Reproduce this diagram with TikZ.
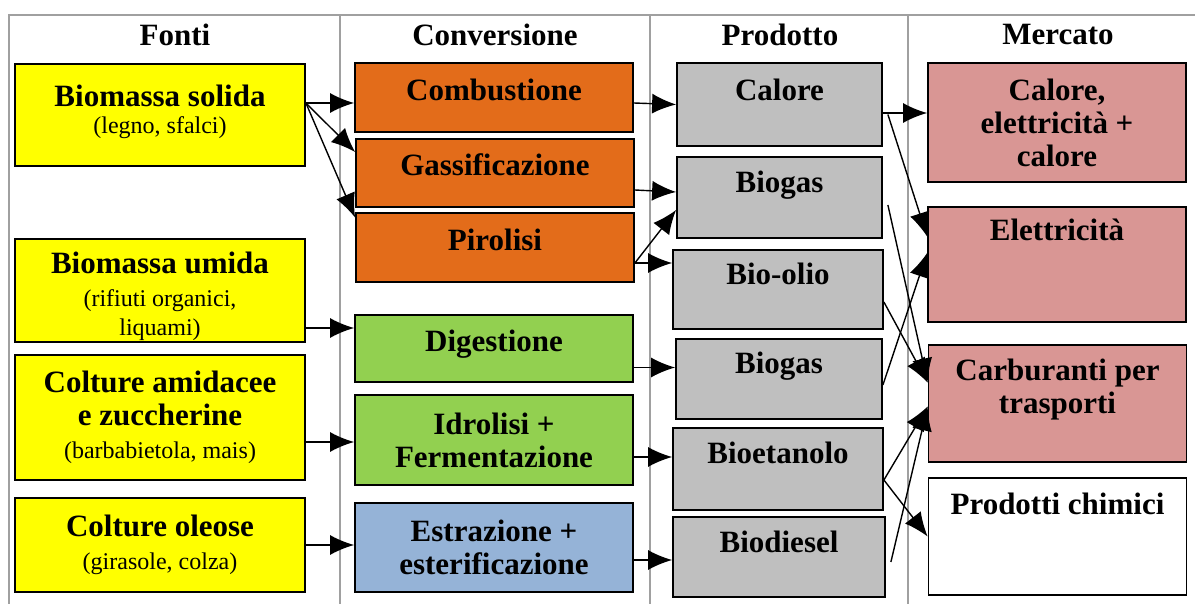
\documentclass[tikz,border=0pt]{standalone}
\usepackage{fontspec}
\setmainfont{Liberation Serif}
\usetikzlibrary{arrows.meta,calc,positioning}
\definecolor{fonteGiallo}{RGB}{255,255,0}
\definecolor{convArancio}{RGB}{227,108,26}
\definecolor{convVerde}{RGB}{146,208,80}
\definecolor{convBlu}{RGB}{149,179,215}
\definecolor{prodGrigio}{RGB}{191,191,191}
\definecolor{mercRosa}{RGB}{217,150,148}
\definecolor{colLinea}{RGB}{160,160,160}
\newcommand{\sottotesto}[1]{{\normalfont\fontsize{12}{14}\selectfont #1}}

\begin{document}
\begin{tikzpicture}[x=0.5pt, y=-0.5pt,
    boxStyle/.style={rectangle, draw=black, line width=0.9pt, align=center, inner sep=2pt, font=\bfseries\fontsize{15.5}{16.5}\selectfont},
    fonteStyle/.style={boxStyle, fill=fonteGiallo, minimum width=145pt},
    convStyle/.style={boxStyle, minimum width=139pt},
    rigaStyle/.style={text height=10pt, text depth=7pt},
    prodStyle/.style={boxStyle, fill=prodGrigio, text height=10pt, text depth=15pt},
    mercStyle/.style={boxStyle, minimum width=129pt},
    headStyle/.style={font=\bfseries\fontsize{15.5}{16.5}\selectfont},
    arrowStyle/.style={-{Latex[length=12pt,width=10pt]}, line width=0.7pt},
    colStyle/.style={draw=colLinea, line width=0.6pt}]
    \useasboundingbox (0,0) rectangle (1195,604);

    \draw[colStyle] (9,604) -- (9,15) -- (1195,15);
    \draw[colStyle] (340,15) -- (340,604);
    \draw[colStyle] (650,15) -- (650,604);
    \draw[colStyle] (908,15) -- (908,604);

    \node[headStyle] (h_fonti) at ( 175, 35) {Fonti};
    \node[headStyle] (h_conv)  at ( 495, 35) {Conversione};
    \node[headStyle] (h_prod)  at ( 780, 35) {Prodotto};
    \node[headStyle] (h_merc)  at (1058, 35) {Mercato};

    \node[fonteStyle, minimum height=51pt, text depth=6pt] (f_solida) at (160, 115) {Biomassa solida\\[-3pt]\sottotesto{(legno, sfalci)}};
    \node[fonteStyle, minimum height=51.5pt, text height=45pt, text depth=0pt] (f_umida) at (160, 290.5) {Biomassa umida\\\sottotesto{(rifiuti organici,}\\[-2pt]\sottotesto{liquami)}};
    \node[fonteStyle, minimum height=62.5pt] (f_amid)   at (160, 417.5) {Colture amidacee\\e zuccherine\\\sottotesto{(barbabietola, mais)}};
    \node[fonteStyle, minimum height=47pt]   (f_oleose) at (160, 545)   {Colture oleose\\\sottotesto{(girasole, colza)}};

    \node[convStyle, rigaStyle, fill=convArancio, minimum height=34.5pt] (c_comb) at (494,  97.5) {Combustione};
    \node[convStyle, rigaStyle, fill=convArancio, minimum height=34pt]   (c_gass) at (495, 173)   {Gassificazione};
    \node[convStyle, rigaStyle, fill=convArancio, minimum height=34.5pt] (c_piro) at (495, 247.5) {Pirolisi};
    \node[convStyle, rigaStyle, fill=convVerde,   minimum height=33.5pt] (c_dige) at (494, 348.5) {Digestione};
    \node[convStyle, fill=convVerde, minimum height=45pt]   (c_idro) at (494, 440)   {Idrolisi +\\Fermentazione};
    \node[convStyle, fill=convBlu,   minimum height=44.5pt] (c_estr) at (494, 547.5) {Estrazione +\\esterificazione};

    \node[prodStyle, minimum width=102.5pt, minimum height=41.5pt, text depth=14pt] (p_calore) at (779.5, 104.5) {Calore};
    \node[prodStyle, minimum width=102.5pt, minimum height=40.5pt] (p_biogasA) at (779.5, 197.5) {Biogas};
    \node[prodStyle, minimum width=105pt,   minimum height=39.5pt] (p_olio)    at (778,   289.5) {Bio-olio};
    \node[prodStyle, minimum width=103pt,   minimum height=40pt]   (p_biogasB) at (779,   379)   {Biogas};
    \node[prodStyle, minimum width=105pt,   minimum height=41pt]   (p_etanolo) at (778,   469)   {Bioetanolo};
    \node[prodStyle, minimum width=106pt,   minimum height=40pt]   (p_diesel)  at (779,   557)   {Biodiesel};

    \node[mercStyle, fill=mercRosa, minimum height=59.5pt, text depth=0pt] (m_calore) at (1057, 122.5) {Calore,\\elettricità +\\calore};
    \node[mercStyle, fill=mercRosa, minimum height=57.5pt, text height=10pt, text depth=34pt] (m_elett) at (1057, 264.5) {Elettricità};
    \node[mercStyle, fill=mercRosa, minimum height=58.5pt, text depth=17pt] (m_carb) at (1057.5, 403.5) {Carburanti per\\trasporti};
    \node[mercStyle, fill=white, minimum height=58.5pt, text height=10pt, text depth=32pt] (m_chim) at (1057.5, 536.5) {Prodotti chimici};

    \coordinate (fs_out) at ($(f_solida.east)+(0,-12)$);
    \draw[arrowStyle] (fs_out) -- (fs_out -| c_comb.west);
    \draw[arrowStyle] (fs_out) -- ($(c_gass.west)+(0,-21)$);
    \draw[arrowStyle] (fs_out) -- ($(c_piro.west)+(0,-30)$);
    \draw[arrowStyle] ($(f_umida.east)+(0,37.5)$) -- ($(c_dige.west)+(0,-20.5)$);
    \draw[arrowStyle] ($(f_amid.east)+(0,24.5)$) -- ($(c_idro.west)+(0,2)$);
    \draw[arrowStyle] (f_oleose.east) -- (f_oleose.east -| c_estr.west);

    \coordinate (cp_out) at ($(c_piro.east)+(0,15.5)$);
    \draw[arrowStyle] ($(c_comb.east)+(0,5.5)$) -- (p_calore.west);
    \draw[arrowStyle] ($(c_gass.east)+(0,17)$) -- ($(p_biogasA.west)+(0,-5.5)$);
    \draw[arrowStyle] (cp_out) -- ($(p_biogasA.west)+(0,12.5)$);
    \draw[arrowStyle] (cp_out) -- (cp_out -| p_olio.west);
    \draw[arrowStyle] ($(c_dige.east)+(0,19)$) -- ($(p_biogasB.west)+(0,-11.5)$);
    \draw[arrowStyle] ($(c_idro.east)+(0,17)$) -- ($(p_etanolo.west)+(0,-12)$);
    \draw[arrowStyle] ($(c_estr.east)+(0,12.5)$) -- ($(p_diesel.west)+(0,3)$);

    \coordinate (pe_out) at ($(p_etanolo.east)+(0,11)$);
    \draw[arrowStyle] ($(p_calore.east)+(0,8.5)$) -- ($(m_calore.west)+(0,-9.5)$);
    \draw[arrowStyle] ($(p_calore.east)+(5,10)$) -- ($(m_elett.west)+(0,-28)$);
    \draw[arrowStyle] ($(p_biogasA.east)+(5,7.5)$) -- ($(m_carb.west)+(0,-21)$);
    \draw[arrowStyle] ($(p_olio.east)+(0,12.5)$) -- ($(m_carb.west)+(0,-21)$);
    \draw[arrowStyle] ($(p_biogasB.east)+(0,6)$) -- ($(m_elett.west)+(0,-11.5)$);
    \draw[arrowStyle] (pe_out) -- ($(m_carb.west)+(0,3)$);
    \draw[arrowStyle] (pe_out) -- (m_chim.west);
    \draw[arrowStyle] ($(p_diesel.east)+(5,5)$) -- ($(m_carb.west)+(0,3)$);
\end{tikzpicture}
\end{document}
